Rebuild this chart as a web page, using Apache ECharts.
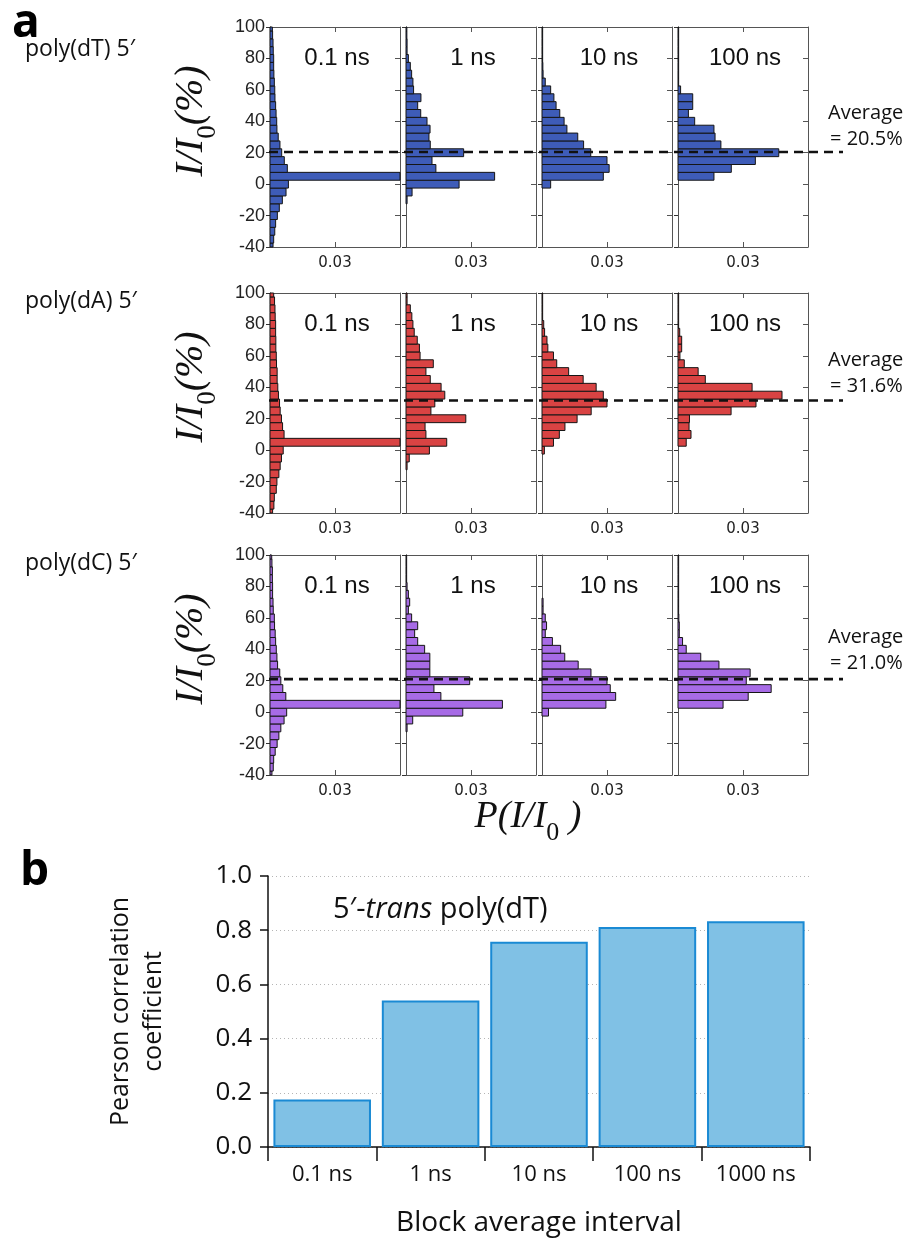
<!DOCTYPE html>
<html>
<head>
<meta charset="utf-8">
<script src="https://cdn.jsdelivr.net/npm/echarts@6.0.0/dist/echarts.min.js"></script>
<style>
  html, body { margin: 0; padding: 0; background: #fff; }
  #chart { width: 906px; height: 1238px; }
</style>
</head>
<body>
<div id="chart"></div>
<script>
// ---------------- DATA ----------------
// bin centres of I/I0 (%) histograms, bin width 5
const BINS = [-40,-35,-30,-25,-20,-15,-10,-5,0,5,10,15,20,25,30,35,40,45,50,55,60,65,70,75,80,85,90,95,100];
const Y_TICKS = [-40, -20, 0, 20, 40, 60, 80, 100];
const INTERVALS = ['0.1 ns', '1 ns', '10 ns', '100 ns'];
const ROW_NAMES = ['poly(dT) 5\u2032', 'poly(dA) 5\u2032', 'poly(dC) 5\u2032'];
const AVERAGES = [20.5, 31.6, 21.0];

// P(I/I0) per bin, poly(dT)
const dT_01  = [0.0014,0.0017,0.0022,0.0026,0.0034,0.0043,0.0057,0.0074,0.0085,0.070,0.0080,0.0066,0.0054,0.0046,0.0038,0.0032,0.0031,0.0028,0.0026,0.0023,0.0022,0.0020,0.0018,0.0017,0.0017,0.0015,0.0014,0.0012,0.0011];
const dT_1   = [0,0,0,0,0,0,0.0005,0.0028,0.0245,0.0409,0.0138,0.0120,0.0266,0.0112,0.0106,0.0111,0.0097,0.0068,0.0054,0.0069,0.0035,0.0032,0.0026,0.0020,0.0011,0.0005,0.0005,0.0004,0.0004];
const dT_10  = [0,0,0,0,0,0,0,0,0.0040,0.0283,0.0310,0.0300,0.0225,0.0192,0.0165,0.0115,0.0102,0.0082,0.0065,0.0055,0.0040,0.0015,0.0005,0.0004,0.0003,0.0003,0.0003,0.0003,0.0003];
const dT_100 = [0,0,0,0,0,0,0,0,0,0.0166,0.0246,0.0357,0.0465,0.0198,0.0171,0.0166,0.0077,0.0048,0.0068,0.0068,0.0012,0.0003,0.0003,0.0003,0.0003,0.0003,0.0003,0.0003,0.0003];
// poly(dA)
const dA_01  = [0.0012,0.0018,0.0020,0.0029,0.0032,0.0041,0.0047,0.0053,0.0061,0.070,0.0065,0.0058,0.0053,0.0047,0.0044,0.0039,0.0036,0.0033,0.0033,0.0030,0.0029,0.0027,0.0027,0.0026,0.0026,0.0024,0.0023,0.0021,0.0017];
const dA_1   = [0,0,0,0,0,0,0.0005,0.0015,0.0108,0.0188,0.0092,0.0088,0.0276,0.0115,0.0133,0.0179,0.0162,0.0112,0.0092,0.0126,0.0065,0.0062,0.0052,0.0038,0.0032,0.0027,0.0020,0.0005,0.0005];
const dA_10  = [0,0,0,0,0,0,0,0,0.0011,0.0053,0.0080,0.0106,0.0162,0.0227,0.0300,0.0283,0.0250,0.0190,0.0123,0.0068,0.0053,0.0027,0.0023,0.0012,0.0008,0.0003,0.0003,0.0003,0.0003];
const dA_100 = [0,0,0,0,0,0,0,0,0,0.0038,0.0060,0.0051,0.0053,0.0245,0.0360,0.0480,0.0342,0.0126,0.0093,0.0029,0.0009,0.0017,0.0017,0.0008,0.0003,0.0003,0.0003,0.0003,0.0003];
// poly(dC)
const dC_01  = [0.0009,0.0015,0.0017,0.0024,0.0033,0.0041,0.0050,0.0065,0.0077,0.070,0.0073,0.0059,0.0050,0.0045,0.0035,0.0032,0.0029,0.0026,0.0024,0.0021,0.0020,0.0015,0.0014,0.0012,0.0012,0.0011,0.0011,0.0009,0.0008];
const dC_1   = [0,0,0,0,0,0,0.0005,0.0031,0.0262,0.0445,0.0161,0.0129,0.0294,0.0110,0.0110,0.0110,0.0086,0.0054,0.0040,0.0054,0.0026,0.0011,0.0017,0.0011,0.0005,0.0003,0.0003,0.0003,0.0003];
const dC_10  = [0,0,0,0,0,0,0,0,0.0030,0.0295,0.0340,0.0315,0.0300,0.0226,0.0167,0.0105,0.0086,0.0048,0.0015,0.0021,0.0015,0.0005,0.0005,0,0,0,0,0,0];
const dC_100 = [0,0,0,0,0,0,0,0,0,0.0208,0.0324,0.0430,0.0315,0.0333,0.0189,0.0105,0.0038,0.0021,0.0006,0.0006,0.0004,0.0003,0.0003,0.0003,0.0003,0.0003,0.0003,0.0003,0.0003];

// panel b
const PEARSON_CATS = ['0.1 ns', '1 ns', '10 ns', '100 ns', '1000 ns'];
const PEARSON_VALUES = [0.175, 0.541, 0.757, 0.812, 0.833];

// ---------------- LAYOUT / STYLE ----------------
const ROWS = [[dT_01, dT_1, dT_10, dT_100], [dA_01, dA_1, dA_10, dA_100], [dC_01, dC_1, dC_10, dC_100]];
const ROW_COLORS = ['#3e5cb8', '#d94343', '#a76be6'];
const COL_LEFT = [270, 406, 542, 678];
const PANEL_W = 130;
const ROW_TOP = [27, 293, 555];
const PANEL_H = 220;
const FRAME = '#555';
const SANS = 'Open Sans';

const chart = echarts.init(document.getElementById('chart'), null, { renderer: 'canvas' });

const grid = [], xAxis = [], yAxis = [], series = [], graphic = [];

function renderHist(color) {
  return function (params, api) {
    const c = api.value(0), v = api.value(1);
    if (!(v > 0)) return null;
    const p1 = api.coord([0, c + 2.5]);
    const p2 = api.coord([v, c - 2.5]);
    const cs = params.coordSys;
    const shape = echarts.graphic.clipRectByRect(
      { x: p1[0], y: p1[1], width: p2[0] - p1[0], height: p2[1] - p1[1] },
      { x: cs.x, y: cs.y, width: cs.width, height: cs.height + 0.01 }
    );
    if (!shape) return null;
    return { type: 'rect', shape: shape, style: { fill: color, stroke: '#151515', lineWidth: 1 } };
  };
}

function frameLine(color, w) {
  return { show: true, onZero: false, lineStyle: { color: color, width: w } };
}

ROWS.forEach((row, r) => {
  row.forEach((vals, c) => {
    const gi = grid.length;
    grid.push({ left: COL_LEFT[c], top: ROW_TOP[r], width: PANEL_W, height: PANEL_H, containLabel: false });
    // bottom x
    xAxis.push({
      type: 'value', gridIndex: gi, position: 'bottom', min: 0, max: 0.06, interval: 0.03,
      axisLine: frameLine(FRAME, 1),
      axisTick: { show: true, inside: true, length: 5, lineStyle: { color: FRAME } },
      axisLabel: { show: true, margin: 9, fontFamily: 'DejaVu Sans', fontSize: 15, color: '#222',
        formatter: v => (Math.abs(v - 0.03) < 1e-9 ? '0.03' : '') },
      splitLine: { show: false }
    });
    // top x
    xAxis.push({
      type: 'value', gridIndex: gi, position: 'top', min: 0, max: 0.06, interval: 0.03,
      axisLine: frameLine(FRAME, 1),
      axisTick: { show: true, inside: true, length: 5, lineStyle: { color: FRAME } },
      axisLabel: { show: false }, splitLine: { show: false }
    });
    // left y
    yAxis.push({
      type: 'value', gridIndex: gi, position: 'left', min: -40, max: 100, interval: 20,
      axisLine: frameLine(c === 0 ? '#111' : FRAME, c === 0 ? 1.2 : 1),
      axisTick: { show: true, inside: false, length: 4, lineStyle: { color: '#333' } },
      axisLabel: { show: c === 0, margin: 5, fontFamily: 'Liberation Sans', fontSize: 18, color: '#222' },
      splitLine: { show: false }
    });
    // right y
    yAxis.push({
      type: 'value', gridIndex: gi, position: 'right', min: -40, max: 100, interval: 20,
      axisLine: frameLine(FRAME, 1),
      axisTick: { show: true, inside: true, length: 5, lineStyle: { color: FRAME } },
      axisLabel: { show: false }, splitLine: { show: false }
    });
    series.push({
      type: 'custom', xAxisIndex: 2 * gi, yAxisIndex: 2 * gi,
      encode: { x: 1, y: 0 },
      renderItem: renderHist(ROW_COLORS[r]),
      data: BINS.map((b, i) => [b, vals[i]]),
      z: 3, silent: true
    });
    graphic.push({
      type: 'text', x: COL_LEFT[c] + PANEL_W / 2 + 2, y: ROW_TOP[r] + 31, z: 10,
      style: { text: INTERVALS[c], fontFamily: 'Liberation Sans', fontSize: 24, fill: '#111',
        align: 'center', verticalAlign: 'middle' }
    });
  });
});

// dashed average lines (overlay grids sharing the I/I0 scale)
AVERAGES.forEach((avg, r) => {
  const gi = grid.length;
  grid.push({ left: 269, top: ROW_TOP[r], width: 574, height: PANEL_H });
  xAxis.push({ type: 'value', gridIndex: gi, min: 0, max: 1, show: false });
  yAxis.push({ type: 'value', gridIndex: gi, min: -40, max: 100, interval: 20, show: false });
  series.push({
    type: 'line', xAxisIndex: xAxis.length - 1, yAxisIndex: yAxis.length - 1,
    data: [[0, avg], [1, avg]], symbol: 'none', silent: true, z: 6,
    lineStyle: { color: '#111', width: 2.6, type: [9, 6] }
  });
  graphic.push({
    type: 'text', x: 828, y: ROW_TOP[r] + [86, 67, 82][r], z: 10,
    style: { text: 'Average', fontFamily: SANS, fontSize: 20, fill: '#111', align: 'left', verticalAlign: 'middle' }
  });
  graphic.push({
    type: 'text', x: 830, y: ROW_TOP[r] + [112, 93, 108][r], z: 10,
    style: { text: '= ' + avg.toFixed(1) + '%', fontFamily: SANS, fontSize: 20, fill: '#111', align: 'left', verticalAlign: 'middle' }
  });
});

// row labels and y titles
ROW_NAMES.forEach((name, r) => {
  graphic.push({
    type: 'text', x: 25, y: ROW_TOP[r] + [22, 8, 8][r], z: 10,
    style: { text: name, fontFamily: SANS, fontSize: 23, fill: '#111', align: 'left', verticalAlign: 'middle' }
  });
  graphic.push({
    type: 'text', x: 196, y: ROW_TOP[r] + 94, rotation: Math.PI / 2, z: 10,
    style: {
      text: '{a|I/I}{b|0}{a|(%)}', align: 'center', verticalAlign: 'middle',
      rich: {
        a: { fontFamily: 'Liberation Serif', fontStyle: 'italic', fontSize: 40, fill: '#111', verticalAlign: 'top', padding: [0, 0, 10, 0] },
        b: { fontFamily: 'Liberation Serif', fontSize: 27, fill: '#111', verticalAlign: 'bottom' }
      }
    }
  });
});

// x title of panel a
graphic.push({
  type: 'text', x: 528, y: 822, z: 10,
  style: {
    text: '{a|P(I/I}{b|0}{a| )}', align: 'center', verticalAlign: 'middle',
    rich: {
      a: { fontFamily: 'Liberation Serif', fontStyle: 'italic', fontSize: 38, fill: '#111', verticalAlign: 'top', padding: [0, 0, 10, 0] },
      b: { fontFamily: 'Liberation Serif', fontSize: 26, fill: '#111', verticalAlign: 'bottom' }
    }
  }
});

// panel letters
graphic.push({ type: 'text', x: 12, y: 24, z: 10,
  style: { text: 'a', fontFamily: SANS, fontWeight: 'bold', fontSize: 46, fill: '#000', align: 'left', verticalAlign: 'middle' } });
graphic.push({ type: 'text', x: 20, y: 872, z: 10,
  style: { text: 'b', fontFamily: SANS, fontWeight: 'bold', fontSize: 46, fill: '#000', align: 'left', verticalAlign: 'middle' } });

// ---------------- panel b ----------------
const gb = grid.length;
grid.push({ left: 268, top: 876, width: 542, height: 273 });
xAxis.push({
  type: 'category', gridIndex: gb, data: PEARSON_CATS,
  axisLine: { show: true, onZero: false, lineStyle: { color: '#111', width: 1.5 } },
  axisTick: { show: true, interval: 0, inside: false, length: 14, alignWithLabel: false, lineStyle: { color: '#111', width: 1.5 } },
  axisLabel: { interval: 0, hideOverlap: false, margin: 17, fontFamily: SANS, fontSize: 22, color: '#111' },
  name: 'Block average interval', nameLocation: 'middle', nameGap: 62,
  nameTextStyle: { fontFamily: SANS, fontSize: 28, color: '#111' }
});
yAxis.push({
  type: 'value', gridIndex: gb, min: 0, max: 1, interval: 0.2,
  axisLine: { show: true, onZero: false, lineStyle: { color: '#111', width: 1.5 } },
  axisTick: { show: true, inside: false, length: 8, lineStyle: { color: '#111', width: 1.5 } },
  axisLabel: { margin: 16, fontFamily: SANS, fontSize: 26, color: '#111', formatter: v => v.toFixed(1) },
  splitLine: { show: true, lineStyle: { color: '#b5b5b5', type: [1, 3], width: 1 } },
  name: 'Pearson correlation\ncoefficient', nameLocation: 'middle', nameGap: 98, nameRotate: 90,
  nameTextStyle: { fontFamily: SANS, fontSize: 25, color: '#111', lineHeight: 33 }
});
series.push({
  type: 'bar', xAxisIndex: xAxis.length - 1, yAxisIndex: yAxis.length - 1,
  data: PEARSON_VALUES, barCategoryGap: '10%', silent: true,
  itemStyle: { color: '#80c1e5', borderColor: '#1a8ad4', borderWidth: 2 }
});
graphic.push({
  type: 'text', x: 333, y: 910, z: 10,
  style: {
    text: '{n|5\u2032-}{i|trans}{n| poly(dT)}', align: 'left', verticalAlign: 'middle',
    rich: {
      n: { fontFamily: SANS, fontSize: 29, fill: '#111' },
      i: { fontFamily: SANS, fontStyle: 'italic', fontSize: 29, fill: '#111' }
    }
  }
});

chart.setOption({
  animation: false,
  backgroundColor: '#fff',
  grid, xAxis, yAxis, series, graphic
});
</script>
</body>
</html>
